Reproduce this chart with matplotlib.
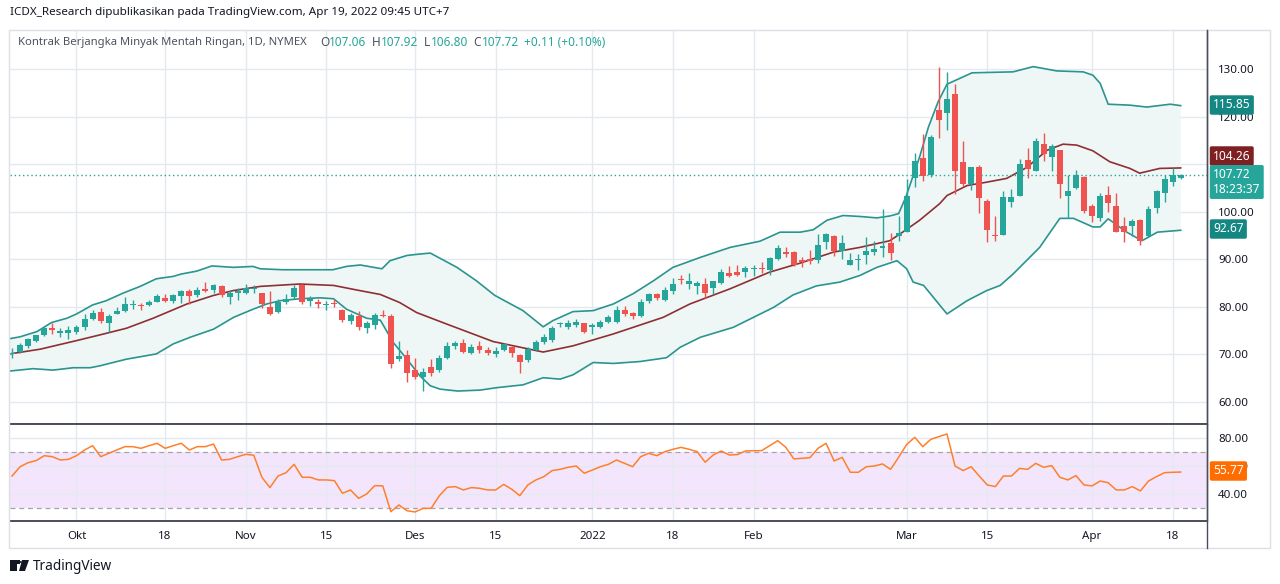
import numpy as np
import matplotlib
matplotlib.use('Agg')
import matplotlib.pyplot as plt
from matplotlib.patches import Rectangle, Polygon, Circle

W, H = 1280, 584
FONT = 'Noto Sans'
plt.rcParams['font.family'] = [FONT, 'DejaVu Sans']

# ---------------- data ----------------
opens = [70.06, 70.5, 71.7, 72.9, 74.0, 75.5, 74.4, 74.6, 74.8, 75.7,
         77.4, 79.0, 76.7, 78.6, 79.2, 80.4, 80.4, 80.3, 81.1, 81.9,
         81.2, 82.2, 83.4, 82.4, 83.8, 83.5, 84.3, 82.0, 82.9, 83.0,
         83.8, 83.0, 80.0, 79.0, 81.0, 82.0, 84.6, 81.2, 81.1, 80.4,
         80.9, 79.4, 77.1, 78.1, 75.5, 76.2, 78.3, 78.1, 69.0, 69.9,
         66.7, 65.3, 67.3, 66.7, 69.3, 71.7, 72.4, 70.3, 71.8, 71.0,
         70.1, 71.0, 71.6, 69.9, 68.9, 71.0, 72.7, 73.0, 76.4, 75.7,
         76.2, 76.5, 75.7, 75.7, 76.9, 76.9, 79.4, 78.8, 78.1, 81.2,
         82.7, 81.4, 83.4, 85.9, 84.7, 84.3, 84.8, 83.9, 85.0, 87.1,
         87.4, 87.3, 88.0, 88.2, 87.8, 90.1, 91.6, 91.6, 89.9, 90.0,
         89.9, 93.6, 94.8, 91.8, 88.9, 89.9, 91.0, 91.5, 92.3, 93.4,
         94.8, 95.8, 107.0, 111.2, 107.7, 121.4, 120.7, 124.7, 110.4, 105.8,
         109.4, 102.2, 95.2, 95.1, 102.0, 103.4, 110.8, 108.6, 114.3, 111.5,
         113.0, 103.3, 105.0, 107.4, 101.1, 98.7, 103.6, 101.1, 97.1, 96.9,
         98.3, 94.8, 100.8, 103.9, 106.2, 107.06]
highs = [71.3, 72.3, 73.4, 74.1, 75.7, 76.7, 75.5, 76.0, 76.2, 78.5,
         79.4, 79.7, 78.5, 80.0, 82.1, 81.4, 80.8, 81.5, 82.6, 82.7,
         82.7, 83.6, 83.8, 84.1, 85.3, 84.7, 84.5, 83.5, 83.9, 84.7,
         84.5, 83.0, 83.4, 81.7, 82.6, 84.6, 84.9, 82.2, 81.7, 81.3,
         81.7, 79.5, 78.8, 79.2, 77.1, 78.7, 79.3, 78.5, 72.9, 71.0,
         69.3, 67.2, 69.0, 69.9, 72.7, 72.9, 73.2, 72.2, 72.9, 71.5,
         71.5, 72.5, 71.8, 70.1, 71.5, 73.1, 74.3, 76.0, 76.9, 77.3,
         77.4, 76.7, 76.7, 77.2, 78.3, 80.2, 80.2, 79.0, 81.7, 83.0,
         83.0, 84.2, 86.0, 86.7, 87.1, 85.5, 86.0, 85.5, 88.0, 88.5,
         88.7, 88.5, 88.7, 89.5, 90.4, 93.1, 92.6, 91.8, 90.5, 92.0,
         95.4, 95.6, 95.0, 95.0, 91.3, 91.2, 94.6, 93.8, 100.5, 95.5,
         99.1, 106.8, 112.4, 116.4, 116.1, 130.5, 129.4, 126.8, 114.8, 109.5,
         109.8, 102.6, 99.2, 104.3, 104.7, 111.0, 113.4, 115.4, 116.6, 114.2,
         113.0, 107.8, 108.7, 107.6, 101.7, 104.0, 105.5, 103.9, 98.9, 98.5,
         98.5, 101.3, 104.5, 107.7, 109.1, 107.92]
lows = [69.3, 70.4, 71.3, 72.6, 73.9, 74.3, 73.6, 73.2, 74.3, 75.2,
        77.2, 76.5, 74.8, 78.5, 79.0, 79.5, 79.3, 80.2, 81.0, 81.1,
        80.9, 80.8, 80.6, 82.0, 83.2, 82.9, 82.0, 80.5, 81.4, 82.7,
        82.9, 79.8, 78.3, 78.8, 80.7, 81.7, 80.7, 80.1, 79.7, 79.3,
        79.9, 76.9, 76.4, 75.1, 74.6, 75.3, 77.9, 67.2, 68.6, 64.2,
        64.8, 62.3, 65.5, 66.4, 69.0, 71.1, 70.4, 70.1, 70.4, 69.9,
        69.5, 70.8, 69.5, 66.0, 68.5, 70.8, 72.2, 72.7, 75.7, 75.3,
        75.8, 74.6, 74.3, 75.5, 76.7, 76.7, 78.1, 77.4, 77.8, 80.9,
        81.5, 81.3, 82.7, 84.9, 83.8, 82.6, 81.9, 82.7, 84.8, 86.2,
        86.4, 86.2, 86.4, 87.1, 86.6, 89.9, 90.4, 88.5, 88.4, 89.0,
        89.2, 92.2, 90.7, 90.0, 88.7, 87.7, 89.0, 90.8, 90.4, 89.9,
        93.9, 95.7, 105.2, 106.5, 107.3, 115.5, 117.1, 103.8, 105.5, 104.5,
        99.7, 93.6, 93.9, 95.0, 101.0, 103.4, 107.1, 108.5, 110.7, 108.5,
        102.9, 98.7, 104.7, 99.7, 97.8, 98.0, 99.9, 95.7, 93.7, 94.8,
        92.9, 94.7, 99.7, 102.0, 105.3, 106.80]
closes = [70.4, 71.9, 73.2, 74.0, 75.6, 75.2, 75.0, 75.1, 75.8, 77.4,
          78.8, 77.1, 78.1, 79.2, 80.5, 80.5, 80.2, 81.1, 82.2, 81.3,
          82.4, 83.4, 82.2, 83.6, 83.4, 84.5, 82.5, 82.9, 83.4, 83.9,
          84.0, 80.5, 78.6, 81.1, 81.7, 84.0, 81.1, 81.7, 80.5, 80.7,
          80.5, 77.3, 78.3, 75.7, 76.7, 78.3, 78.1, 68.0, 69.7, 66.0,
          65.3, 66.3, 66.0, 69.2, 71.8, 72.3, 70.5, 71.6, 71.0, 70.4,
          70.8, 72.2, 70.4, 68.3, 71.2, 72.7, 73.7, 75.5, 76.5, 76.5,
          76.9, 74.8, 76.2, 76.9, 77.9, 79.4, 78.6, 78.1, 81.1, 82.6,
          81.8, 83.6, 84.7, 85.7, 85.5, 85.0, 83.0, 85.5, 87.3, 86.4,
          86.6, 88.1, 88.1, 88.0, 90.2, 92.3, 91.1, 88.8, 89.4, 89.6,
          93.1, 95.4, 91.8, 93.5, 89.9, 90.0, 91.8, 92.1, 92.7, 91.3,
          95.6, 103.4, 110.6, 107.5, 115.7, 119.2, 123.7, 108.6, 105.8, 109.3,
          102.9, 96.1, 94.9, 103.0, 103.0, 110.0, 109.0, 114.8, 112.1, 113.8,
          105.8, 104.3, 107.8, 100.1, 99.2, 103.2, 101.8, 95.8, 95.7, 98.1,
          93.9, 100.5, 104.3, 106.8, 107.7, 107.72]

rsi = [52.9, 59.6, 62.5, 64.0, 67.5, 66.8, 64.4, 64.9, 67.5, 71.6,
       74.7, 66.8, 69.2, 71.6, 74.0, 74.0, 72.8, 74.7, 76.4, 72.8,
       74.7, 76.4, 71.6, 74.0, 74.0, 75.9, 64.4, 64.9, 66.8, 68.5,
       67.8, 52.0, 44.6, 52.9, 55.3, 61.3, 52.0, 52.0, 50.1, 50.1,
       49.6, 40.5, 42.9, 36.9, 40.0, 46.0, 45.8, 27.3, 32.1, 28.0,
       27.1, 29.7, 29.7, 38.6, 44.8, 45.3, 42.9, 44.6, 44.1, 42.9,
       42.9, 46.9, 43.4, 38.8, 46.5, 50.1, 52.5, 56.8, 57.7, 59.2,
       60.1, 54.9, 57.2, 59.6, 61.3, 64.4, 62.0, 59.6, 66.8, 69.2,
       67.5, 70.4, 72.1, 73.5, 72.1, 70.4, 62.8, 68.0, 70.9, 68.0,
       68.3, 70.9, 71.1, 71.1, 74.7, 78.3, 73.5, 65.2, 65.6, 66.1,
       72.8, 76.4, 63.7, 66.3, 55.6, 55.6, 59.6, 60.1, 61.6, 57.7,
       66.3, 75.6, 80.7, 74.0, 79.3, 81.2, 83.1, 60.1, 56.8, 59.6,
       52.9, 46.5, 45.3, 52.9, 52.9, 58.4, 57.7, 62.0, 59.2, 60.4,
       52.0, 50.1, 53.2, 46.5, 45.8, 49.3, 48.1, 42.9, 42.9, 45.3,
       42.2, 49.3, 52.5, 55.3, 55.6, 55.77]

# Bollinger bands (bar index, value)
upper_idx = [-0.3, 1.0, 3.1, 4.9, 6.8, 8.0, 10.0, 11.7, 13.8, 15.9, 17.9, 20.0, 21.0,
             22.9, 24.8, 27.5, 29.9, 30.8, 33.6, 39.8, 41.5, 43.2, 45.9, 46.9, 49.0,
             50.6, 51.9, 55.2, 57.6, 59.9, 63.4, 65.9, 67.1, 69.6, 72.1, 74.6, 77.1,
             79.6, 82.0, 85.4, 89.1, 92.8, 95.3, 97.8, 99.4, 101.1, 103.1, 105.2,
             107.3, 108.9, 110.0, 110.9, 112.6, 113.7, 114.9, 116.0, 119.1, 124.2,
             126.7, 129.6, 132.9, 134.1, 135.0, 136.0, 138.7, 140.8, 143.7, 145.0]
upper_val = [73.3, 73.7, 74.8, 76.7, 77.6, 78.5, 80.4, 81.3, 82.9, 84.3, 85.9, 86.4, 86.9,
             87.5, 88.6, 88.3, 88.5, 88.0, 87.8, 87.8, 88.5, 88.8, 88.0, 89.7, 90.8,
             91.1, 91.3, 88.3, 85.5, 82.4, 79.2, 75.8, 77.1, 79.0, 79.2, 80.6, 82.8,
             85.5, 88.3, 90.4, 92.5, 93.8, 95.7, 95.7, 96.2, 98.2, 99.2, 99.0,
             98.7, 99.1, 99.6, 103.1, 111.5, 117.8, 123.1, 126.8, 129.2, 129.4,
             130.5, 129.6, 129.4, 128.7, 127.0, 122.6, 122.4, 122.0, 122.6, 122.3]
basis_idx = [-0.3, 3.5, 8.0, 10.9, 14.2, 17.5, 21.7, 25.0, 27.4, 30.8, 35.7, 39.9,
             43.2, 45.7, 48.1, 50.2, 53.9, 59.7, 65.9, 69.6, 74.6, 80.8, 84.1, 89.1,
             94.0, 97.8, 101.9, 105.2, 108.9, 110.5, 112.6, 115.1, 116.0, 118.5,
             120.9, 123.4, 125.9, 128.4, 130.4, 132.1, 134.1, 136.2, 138.7, 139.9,
             142.4, 145.0]
basis_val = [70.1, 71.1, 72.9, 74.1, 75.5, 77.6, 80.6, 82.4, 83.4, 84.3, 84.8, 84.5,
             83.4, 82.6, 80.9, 78.8, 76.4, 72.7, 70.5, 71.8, 74.3, 77.8, 80.6, 83.8,
             87.3, 89.2, 91.5, 92.5, 93.9, 95.7, 98.2, 101.7, 103.4, 105.5,
             106.2, 107.0, 109.3, 112.9, 114.2, 114.0, 112.8, 110.5, 109.1, 108.1,
             109.1, 109.2]
lower_idx = [-0.3, 2.6, 5.1, 7.6, 9.7, 10.9, 14.2, 17.9, 20.0, 22.1, 25.0, 27.5,
             29.9, 31.6, 33.3, 35.7, 38.2, 39.9, 41.5, 44.0, 45.7, 47.3, 49.0, 50.6,
             51.9, 53.1, 55.3, 58.1, 60.1, 63.4, 65.9, 68.0, 69.6, 72.1, 74.6, 77.9,
             81.2, 82.9, 85.4, 89.5, 92.0, 94.5, 96.9, 99.8, 102.7, 105.2, 107.3,
             109.8, 111.0, 111.8, 113.1, 116.0, 118.5, 120.9, 122.6, 124.2, 127.5,
             130.0, 131.7, 134.1, 135.0, 136.0, 138.3, 140.2, 142.1, 145.0]
lower_val = [66.5, 67.0, 66.7, 67.2, 67.2, 67.6, 69.0, 70.1, 72.2, 73.6, 75.3, 77.8,
             79.5, 80.6, 81.3, 81.7, 81.9, 81.7, 79.5, 77.6, 77.2, 72.5, 69.0, 65.5,
             63.4, 62.7, 62.3, 62.5, 63.0, 63.6, 65.1, 64.8, 65.7, 68.3, 68.1, 68.5,
             69.3, 71.5, 73.6, 75.7, 77.8, 79.9, 82.5, 84.4, 85.2, 86.6, 88.3,
             89.7, 88.0, 85.2, 84.5, 78.5, 81.3, 83.4, 84.5, 86.9, 92.5,
             98.6, 98.6, 96.8, 96.8, 98.5, 95.7, 93.9, 95.7, 96.1]

tick_idx = [8, 19, 29, 39, 50, 60, 72, 82, 92, 111, 121, 134, 144]
tick_lbl = ['Okt', '18', 'Nov', '15', 'Des', '15', '2022', '18', 'Feb', 'Mar', '15', 'Apr', '18']
price_ticks = [60, 70, 80, 90, 100, 110, 120, 130]
hidden_price_ticks = [110]          # covered by the value labels in the reference
rsi_ticks = [40, 60, 80]

last_price = 107.72
label_upper, label_basis, label_lower = '115.85', '104.26', '92.67'
last_rsi = 55.77
change_text = '+0.11 (+0.10%)'

# ---------------- styling ----------------
GREEN = '#26A69A'
RED = '#EF5350'
BAND = '#2A948F'
BASIS = '#8E2F33'
FILL = '#EFF7F6'
GRID = '#E3E9EF'
AXLINE = '#4A4E59'
TXT = '#131722'
GREYTXT = '#4C525E'

fig = plt.figure(figsize=(W / 100, H / 100), dpi=100)
fig.patch.set_facecolor('white')

def fx(px):
    return px / W

def fy(py):
    return 1 - py / H

LEFT, RIGHT = 10, 1207
ax = fig.add_axes([fx(LEFT), fy(424), fx(RIGHT) - fx(LEFT), fy(30) - fy(424)])
rx = fig.add_axes([fx(LEFT), fy(521), fx(RIGHT) - fx(LEFT), fy(424) - fy(521)], sharex=ax)

n = len(closes)
idx = np.arange(n)
o = np.array(opens); c = np.array(closes); h = np.array(highs); l = np.array(lows)
colors = np.where(c >= o, GREEN, RED)

# bands
poly_x = np.r_[upper_idx, lower_idx[::-1]]
poly_y = np.r_[upper_val, lower_val[::-1]]
ax.add_patch(Polygon(np.c_[poly_x, poly_y], closed=True, fc=FILL, ec='none', zorder=1))
ax.plot(upper_idx, upper_val, color=BAND, lw=1.2, zorder=2)
ax.plot(lower_idx, lower_val, color=BAND, lw=1.2, zorder=2)
ax.plot(basis_idx, basis_val, color=BASIS, lw=1.2, zorder=2)

# candles
ax.vlines(idx, l, h, colors=colors, lw=1.0, zorder=3)
body_lo = np.minimum(o, c)
body_h = np.maximum(np.abs(c - o), 0.15)
ax.bar(idx, body_h, bottom=body_lo, width=0.74, color=colors, lw=0, zorder=4)

ax.axhline(last_price, color=GREEN, ls=(0, (1, 2)), lw=1.0, zorder=2)

ax.set_xlim(-0.25, 148.26)
ax.set_ylim(55.37, 138.2)
ax.set_xticks(tick_idx)
ax.set_yticks(price_ticks)
ax.set_yticklabels(['' if v in hidden_price_ticks else f'{v:.2f}' for v in price_ticks])
ax.yaxis.tick_right()
ax.tick_params(axis='y', length=0, pad=8, labelsize=8.3, labelcolor=TXT)
ax.tick_params(axis='x', length=0, labelbottom=False)
ax.grid(True, color=GRID, lw=1.0, zorder=0)
ax.set_axisbelow(True)
for s in ['left', 'top']:
    ax.spines[s].set_visible(False)
ax.spines['bottom'].set_color(AXLINE)
ax.spines['bottom'].set_linewidth(1.4)
ax.spines['right'].set_color(AXLINE)
ax.spines['right'].set_linewidth(1.0)

# RSI panel
rx.axhspan(30, 70, color='#F3E6FC', lw=0, zorder=0)
rx.plot(idx, rsi, color='#FF7F2A', lw=1.1, zorder=3)
for v in (70, 30):
    rx.axhline(v, color='#A9A3AE', lw=0.9, ls=(0, (4, 3)), zorder=2)
rx.set_ylim(20.6, 90.27)
rx.set_yticks(rsi_ticks)
rx.set_yticklabels([f'{v:.2f}' for v in rsi_ticks])
rx.yaxis.tick_right()
rx.tick_params(axis='y', length=0, pad=8, labelsize=8.3, labelcolor=TXT)
rx.set_xticks(tick_idx)
rx.set_xticklabels(tick_lbl)
for t, lab in zip(rx.get_xticklabels(), tick_lbl):
    if lab == '2022':
        t.set_fontweight('bold')
rx.tick_params(axis='x', length=0, pad=7, labelsize=8.3, labelcolor=TXT)
rx.grid(True, color=GRID, lw=1.0, zorder=1)
rx.set_axisbelow(True)
rx.spines['left'].set_visible(False)
for s in ['top', 'bottom']:
    rx.spines[s].set_color(AXLINE)
    rx.spines[s].set_linewidth(1.4)
rx.spines['right'].set_color(AXLINE)
rx.spines['right'].set_linewidth(1.0)

# outer border and axis column line
fig.add_artist(Rectangle((fx(9), fy(548)), fx(1270) - fx(9), fy(30) - fy(548),
                         transform=fig.transFigure, fill=False, ec='#DCE0E6', lw=1.0))
fig.add_artist(plt.Line2D([fx(RIGHT), fx(RIGHT)], [fy(548), fy(30)],
                          transform=fig.transFigure, color=AXLINE, lw=1.0))

# right-axis value labels
def vbox(ypx, text, fc, fs=8.6, x=1213):
    fig.text(fx(x), fy(ypx), text, color='white', fontsize=fs, va='center', ha='left',
             bbox=dict(boxstyle='round,pad=0.27,rounding_size=0.15', fc=fc, ec='none'), zorder=10)

vbox(105, label_upper, '#148783')
vbox(156, label_basis, '#7E1F22')
vbox(229, label_lower, '#148783')
fig.text(fx(1213), fy(182), f'{last_price:.2f}\n18:23:37', color='white', fontsize=8.6,
         va='center', ha='left', linespacing=1.15,
         bbox=dict(boxstyle='round,pad=0.27,rounding_size=0.15', fc=GREEN, ec='none'), zorder=10)
vbox(471, f'{last_rsi:.2f}', '#FF6D00')

# header texts
fig.text(fx(10), fy(13), 'ICDX_Research dipublikasikan pada TradingView.com, Apr 19, 2022 09:45 UTC+7',
         fontsize=8.4, color=TXT, va='center', ha='left')
legend_parts = [
    (18, 'Kontrak Berjangka Minyak Mentah Ringan, 1D, NYMEX', GREYTXT, 8.1),
    (320, 'O', GREYTXT, 8.5), (329, f'{opens[-1]:.2f}', GREEN, 8.5),
    (372, 'H', GREYTXT, 8.5), (381, f'{highs[-1]:.2f}', GREEN, 8.5),
    (424, 'L', GREYTXT, 8.5), (431, f'{lows[-1]:.2f}', GREEN, 8.5),
    (473, 'C', GREYTXT, 8.5), (482, f'{closes[-1]:.2f}', GREEN, 8.5),
    (524, change_text, GREEN, 8.5),
]
for xp, s, col, fs in legend_parts:
    fig.text(fx(xp), fy(42), s, fontsize=fs, color=col, va='center', ha='left')

# footer logo
fig.add_artist(Rectangle((fx(10), fy(571)), fx(7) - fx(0), fy(560) - fy(571),
                         transform=fig.transFigure, fc=TXT, ec='none'))
fig.add_artist(Rectangle((fx(10), fy(564)), fx(10) - fx(0), fy(560) - fy(564),
                         transform=fig.transFigure, fc=TXT, ec='none'))
fig.add_artist(Polygon([(fx(22), fy(560)), (fx(29), fy(560)), (fx(25), fy(571)), (fx(19), fy(571))],
                       closed=True, transform=fig.transFigure, fc=TXT, ec='none'))
fig.add_artist(Circle((fx(20), fy(562)), 2.0 / W, transform=fig.transFigure, fc=TXT, ec='none'))
fig.text(fx(33), fy(566), 'TradingView', fontsize=9.8, color=TXT, va='center', ha='left')

fig.savefig('out.png', dpi=100, facecolor='white')
